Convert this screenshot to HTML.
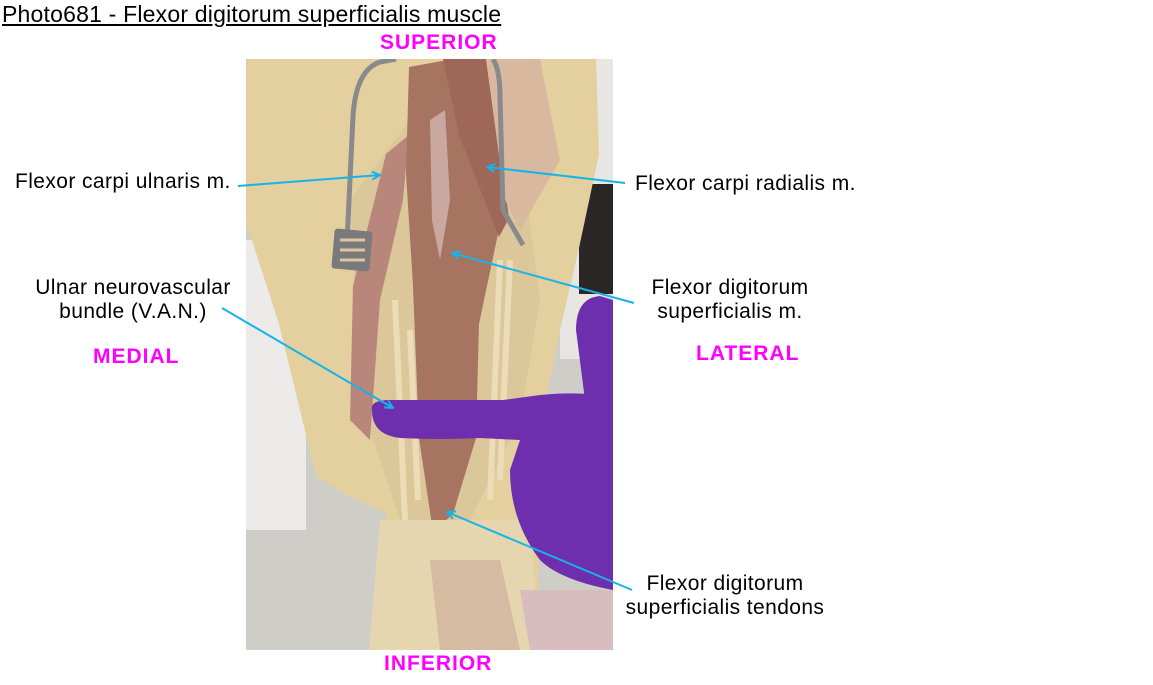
<!DOCTYPE html>
<html><head><meta charset="utf-8"><style>
body{margin:0;width:1153px;height:685px;background:#fff;position:relative;overflow:hidden;font-family:"Liberation Sans",Arial,sans-serif;}
.t{position:absolute;font-size:21px;letter-spacing:0.4px;color:#000;white-space:nowrap;line-height:24px;}
.m{position:absolute;font-size:21px;letter-spacing:1px;color:#f0f;font-weight:bold;white-space:nowrap;line-height:24px;}
</style></head><body>
<svg width="1153" height="685" style="position:absolute;left:0;top:0">
<defs><clipPath id="c"><rect x="246" y="59" width="367" height="591"/></clipPath>
<marker id="a" markerWidth="10" markerHeight="10" refX="9" refY="5" orient="auto" markerUnits="userSpaceOnUse"><path d="M1,1 L9,5 L1,9" fill="none" stroke="#16b4ea" stroke-width="2"/></marker></defs>
<g clip-path="url(#c)">
<rect x="246" y="59" width="367" height="591" fill="#cfcdc8"/>
<rect x="246" y="240" width="60" height="290" fill="#ecebea"/>
<rect x="560" y="59" width="53" height="300" fill="#e8e6e3"/>
<rect x="579" y="184" width="34" height="110" fill="#2a2626"/>
<polygon points="246,59 596,59 599,154 579,248 560,330 546,400 540,520 536,650 369,650 386,513 346,495 316,476 279,324 246,222" fill="#e4cf9e"/>
<polygon points="350,200 410,120 520,150 540,300 520,420 470,520 400,520 360,400" fill="#dcc79a"/>
<polygon points="353,286 386,154 409,135 403,200 380,300 370,440 350,420" fill="#b8867a"/>
<polygon points="409,67 453,59 473,135 499,229 479,324 476,438 453,514 433,532 419,438 413,286 406,173" fill="#a87462"/>
<polygon points="430,120 445,110 450,200 440,260 432,220" fill="#c9a8a0"/>
<polygon points="443,59 486,59 509,218 499,237 459,135" fill="#9e6757"/>
<polygon points="486,59 540,59 560,160 520,230 505,200" fill="#d9b8a0"/>
<path d="M395,300 L405,520 M410,330 L418,500 M500,260 L490,500 M510,260 L500,480" stroke="#ecdcb8" stroke-width="6" fill="none"/>
<polygon points="380,520 530,520 540,650 369,650" fill="#e6d6b0"/>
<polygon points="430,560 500,560 520,650 440,650" fill="#c9a89a" opacity=".6"/>
<polygon points="520,590 613,590 613,650 530,650" fill="#d9bcc0"/>
<path d="M372,410 Q370,400 390,400 L503,400 L540,395 Q590,390 613,400 L613,590 Q560,580 540,560 Q510,520 510,470 L520,440 L480,438 Q440,440 400,438 Q372,435 372,410Z" fill="#6d2fae"/>
<path d="M576,330 Q576,298 600,296 L613,300 L613,400 L585,400 Z" fill="#6d2fae"/>
<path d="M346,264 L353,116 Q356,70 380,62 L396,59 M493,59 Q500,70 500,97 L503,210 L523,245" stroke="#8a8a8c" stroke-width="5" fill="none"/>
<rect x="333" y="230" width="38" height="40" rx="3" fill="#7a7a7c" transform="rotate(5 352 250)"/>
<path d="M340,240 h25 M340,250 h25 M340,260 h25" stroke="#dcc79a" stroke-width="3"/>
</g>
<g stroke="#16b4ea" stroke-width="2" marker-end="url(#a)">
<line x1="238" y1="186" x2="380" y2="175"/>
<line x1="625" y1="183" x2="487" y2="167"/>
<line x1="634" y1="303" x2="452" y2="253"/>
<line x1="222" y1="308" x2="393" y2="408"/>
<line x1="632" y1="590" x2="447" y2="512"/>
</g>
</svg>
<div class="t" style="left:2px;top:1px;font-size:23px;letter-spacing:0.2px;line-height:26px;text-decoration:underline;">Photo681 - Flexor digitorum superficialis muscle</div>
<div class="m" style="left:380px;top:31px;">SUPERIOR</div>
<div class="m" style="left:384px;top:652px;">INFERIOR</div>
<div class="m" style="left:93px;top:345px;">MEDIAL</div>
<div class="m" style="left:696px;top:342px;">LATERAL</div>
<div class="t" style="left:15px;top:170px;">Flexor carpi ulnaris m.</div>
<div class="t" style="left:635px;top:172px;">Flexor carpi radialis m.</div>
<div class="t" style="left:630px;top:276px;text-align:center;width:200px;">Flexor digitorum<br>superficialis m.</div>
<div class="t" style="left:23px;top:276px;text-align:center;width:220px;">Ulnar neurovascular<br>bundle (V.A.N.)</div>
<div class="t" style="left:610px;top:572px;text-align:center;width:230px;">Flexor digitorum<br>superficialis tendons</div>
</body></html>
